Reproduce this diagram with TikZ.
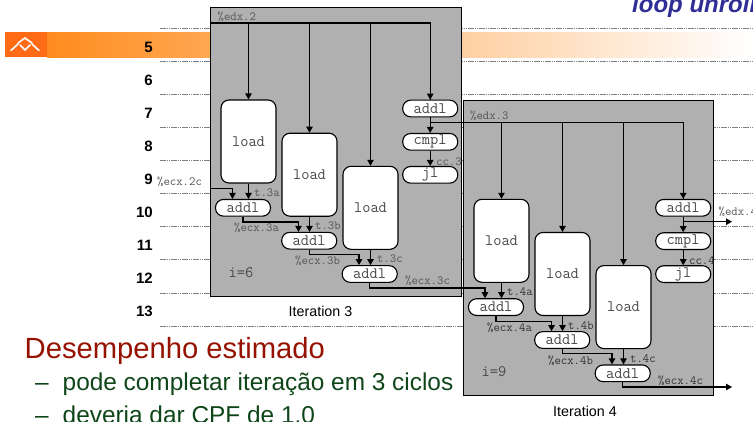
\documentclass[tikz,border=0pt]{standalone}
\usepackage{fontspec}
\setmainfont{Liberation Sans}
\usetikzlibrary{arrows.meta,calc}
\definecolor{boxgray}{HTML}{B0B0B0}
\definecolor{monotext}{HTML}{484848}
\definecolor{lbltext}{HTML}{555555}
\definecolor{lbldark}{HTML}{303030}
\tikzset{
  grid line/.style={draw=black!50,line width=0.7pt,dash pattern=on 1.5pt off 0.7pt},
  panel/.style={draw=black,line width=1pt,fill=boxgray},
  loadbox/.style={draw=black,line width=1.1pt,fill=white,rounded corners=8pt,minimum width=55pt,minimum height=83pt,inner sep=0pt,font=\fontsize{16}{16}\ttfamily,text=monotext},
  pill/.style={draw=black,line width=1.1pt,fill=white,rounded corners=8pt,minimum width=55pt,minimum height=16.7pt,inner sep=0pt,font=\fontsize{16}{16}\ttfamily,text=monotext},
  flow/.style={draw=black,line width=1.1pt},
  arr/.style={flow,-{Triangle[length=6pt,width=6.5pt]}},
  lbl/.style={anchor=west,inner sep=0pt,font=\fontsize{12.4}{12.4}\ttfamily,text=lbltext},
  lbldk/.style={lbl,text=lbldark},
  ivar/.style={anchor=west,inner sep=0pt,font=\fontsize{16}{16}\ttfamily,text=monotext},
  rownum/.style={anchor=east,inner sep=0pt,font=\fontsize{15}{15}\bfseries,text=black},
  caption/.style={inner sep=0pt,font=\fontsize{14.3}{14.3}\selectfont,text=black},
  logo line/.style={draw=white,line width=1.6pt,line cap=round},
  headtxt/.style={anchor=base west,inner sep=0pt,font=\fontsize{29.2}{29.2}\selectfont,text={rgb,255:red,150;green,18;blue,0}},
  bullettxt/.style={anchor=base west,inner sep=0pt,font=\fontsize{24.4}{25}\selectfont,text={rgb,255:red,15;green,70;blue,25}}
}
\begin{document}
\begin{tikzpicture}[x=1pt,y=-1pt]
\useasboundingbox (0,0) rectangle (753,421);
\clip (0,0) rectangle (753,421);
% band
\shade[shading=axis,shading angle=90,left color={rgb,255:red,255;green,140;blue,30},right color=white] (47,32) rectangle (753,57);
\fill[color={rgb,255:red,255;green,106;blue,20}] (5,32) rectangle (47,57);
\draw[logo line] (11,50.5) -- (18,44);
\draw[logo line] (18,43) -- (25,38) -- (32,43);
\draw[logo line] (20,45) -- (25,50) -- (30,45);
\draw[logo line] (32,44) -- (39,50.5);
% grid
\foreach \yy in {28.5,61.5,94.5,127.5,160.5,193.5,226.5,259.5,293,326}
  \draw[grid line] (160,\yy) -- (753,\yy);
% row numbers
\foreach \nn/\yy in {5/47,6/80,7/113,8/146,9/179,10/212,11/245,12/278,13/311}
  \node[rownum] (row\nn) at (153,\yy) {\nn};
% title
\node[anchor=base west,inner sep=0pt,font=\fontsize{24}{24}\bfseries\itshape,text={rgb,255:red,46;green,46;blue,150}] (title) at (632,12.5) {loop unroll};
% panel 1
\node[panel,anchor=north west,minimum width=250.5pt,minimum height=289pt,inner sep=0pt] (p1) at (210,6.5) {};
\coordinate (e2) at (210,23);
\node[loadbox] (l1) at (248.5,141.5) {load};
\node[loadbox] (l2) at (309.5,174.7) {load};
\node[loadbox] (l3) at (370.5,207.8) {load};
\node[pill] (ad) at (430.2,108.5) {addl};
\node[pill] (cm) at (430.2,141.8) {cmpl};
\node[pill] (jl) at (430.2,174.8) {jl};
\node[pill] (a1) at (243,207.8) {addl};
\node[pill] (a2) at (309.2,240.7) {addl};
\node[pill] (a3) at (369.7,274) {addl};
\node[lbl] (n1) at (217.5,17) {\%edx.2};
\node[lbl] (n2) at (436,162) {cc.3};
\node[lbl] (n3) at (157,182) {\%ecx.2c};
\node[lbl] (n4) at (254,193) {t.3a};
\node[lbl] (n5) at (234,228) {\%ecx.3a};
\node[lbl] (n6) at (315,226) {t.3b};
\node[lbl] (n7) at (295,261) {\%ecx.3b};
\node[lbl] (n8) at (377,259) {t.3c};
\node[lbl] (n9) at (405,281) {\%ecx.3c};
\node[ivar] (i6) at (228.5,272.5) {i=6};
\node[caption] (c3) at (320.5,311) {Iteration 3};
\draw[flow] (e2) -| (ad.north);
\draw[arr] (e2 -| ad.north) -- (ad.north);
\draw[arr] (e2 -| l1.north) -- (l1.north);
\draw[arr] (e2 -| l2.north) -- (l2.north);
\draw[arr] (e2 -| l3.north) -- (l3.north);
\draw[arr] (ad.south) -- (cm.north);
\draw[arr] (cm.south) -- (jl.north);
\coordinate (ecxin) at (210,188.5);
\coordinate (in1) at (232.5,188.5);
\draw[arr] (ecxin) -- (in1) -- (in1 |- a1.north);
\draw[arr] (l1.south) -- (l1.south |- a1.north);
\coordinate (in2) at (298.5,222);
\draw[arr] (a1.south) |- (in2) -- (in2 |- a2.north);
\draw[arr] (l2.south) -- (l2.south |- a2.north);
\coordinate (in3) at (359,254.5);
\draw[arr] (a2.south) |- (in3) -- (in3 |- a3.north);
\draw[arr] (l3.south) -- (l3.south |- a3.north);
% panel 2
\node[panel,anchor=north west,minimum width=250pt,minimum height=295pt,inner sep=0pt] (p2) at (463.3,100.3) {};
\node[loadbox] (L1) at (501.5,240.8) {load};
\node[loadbox] (L2) at (562.5,274) {load};
\node[loadbox] (L3) at (623.5,307.1) {load};
\node[pill] (AD) at (683.2,207.8) {addl};
\node[pill] (CM) at (683.2,241.1) {cmpl};
\node[pill] (JL) at (683.2,274.1) {jl};
\node[pill] (A1) at (496,307.1) {addl};
\node[pill] (A2) at (562.2,340) {addl};
\node[pill] (A3) at (622.7,373.3) {addl};
\node[lbl] (m1) at (470,116) {\%edx.3};
\node[lbldk] (m2) at (689,261) {cc.4};
\node[lbl] (m3) at (718.5,211.5) {\%edx.4};
\node[lbldk] (m4) at (507,292) {t.4a};
\node[lbldk] (m5) at (487,327.5) {\%ecx.4a};
\node[lbldk] (m6) at (568,326) {t.4b};
\node[lbldk] (m7) at (548,361) {\%ecx.4b};
\node[lbldk] (m8) at (630,359) {t.4c};
\node[lbldk] (m9) at (658,381) {\%ecx.4c};
\node[ivar] (i9) at (481.5,371.5) {i=9};
\node[caption] (c4) at (585,411) {Iteration 4};
\coordinate (e3) at (430.2,122.2);
\draw[flow] (e3) -| (AD.north);
\draw[arr] (e3 -| AD.north) -- (AD.north);
\draw[arr] (e3 -| L1.north) -- (L1.north);
\draw[arr] (e3 -| L2.north) -- (L2.north);
\draw[arr] (e3 -| L3.north) -- (L3.north);
\draw[arr] (AD.south) -- (CM.north);
\draw[arr] (CM.south) -- (JL.north);
\coordinate (out4) at (732,221.7);
\draw[arr] (AD.south |- out4) -- (out4);
\coordinate (IN1) at (485,288);
\draw[arr] (a3.south) |- (IN1) -- (IN1 |- A1.north);
\draw[arr] (L1.south) -- (L1.south |- A1.north);
\coordinate (IN2) at (551.5,321.3);
\draw[arr] (A1.south) |- (IN2) -- (IN2 |- A2.north);
\draw[arr] (L2.south) -- (L2.south |- A2.north);
\coordinate (IN3) at (612,353.8);
\draw[arr] (A2.south) |- (IN3) -- (IN3 |- A3.north);
\draw[arr] (L3.south) -- (L3.south |- A3.north);
\coordinate (out5) at (732,387);
\draw[arr] (A3.south) |- (out5);
% text
\node[headtxt] (h) at (24.5,358) {Desempenho estimado};
\node[bullettxt] (b1d) at (35,390) {–};
\node[bullettxt] (b1) at (62.5,390) {pode completar iteração em 3 ciclos};
\node[bullettxt] (b2d) at (35,423) {–};
\node[bullettxt] (b2) at (62.5,423) {deveria dar CPF de 1.0};
\end{tikzpicture}
\end{document}
